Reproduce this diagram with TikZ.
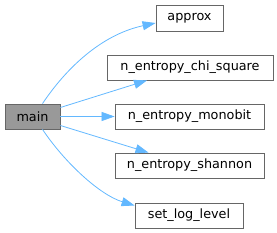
\documentclass[tikz,border=0pt]{standalone}
\usepackage{fontspec}
\setmainfont{DejaVu Sans}
\usetikzlibrary{arrows.meta}
\definecolor{edgeblue}{HTML}{63B8FF}
\definecolor{boxborder}{HTML}{666666}
\definecolor{mainfill}{HTML}{999999}
\begin{document}
\begin{tikzpicture}[x=1pt,y=-1pt,
  fn/.style={draw=boxborder,fill=white,line width=0.8pt,inner sep=0pt,minimum height=25pt,font=\fontsize{12.8}{14}\selectfont,text=black},
  call/.style={draw=edgeblue,line width=0.8pt,-{Triangle[length=13pt,width=9pt]}}]
\useasboundingbox (0,0) rectangle (277,233);
\node[fn,fill=mainfill,minimum width=55pt] (main) at (32.5,116.5) {main};
\node[fn,minimum width=67pt,minimum height=26pt] (approx) at (189.5,18) {approx};
\node[fn,minimum width=166pt] (chi) at (190,67.5) {n\_entropy\_chi\_square};
\node[fn,minimum width=149pt] (mono) at (189.5,116.5) {n\_entropy\_monobit};
\node[fn,minimum width=149pt] (shan) at (189.5,165.5) {n\_entropy\_shannon};
\node[fn,minimum width=108pt] (setl) at (189,215.5) {set\_log\_level};
\draw[call] ([xshift=10pt]main.north) .. controls (65,70) and (100,35) .. ([yshift=-5pt]approx.west);
\draw[call] ([yshift=9pt]main.east) -- ([xshift=-43pt]chi.south);
\draw[call] (main.east) -- (mono.west);
\draw[call] ([yshift=-9pt]main.east) -- ([xshift=-41pt]shan.north);
\draw[call] ([xshift=10pt]main.south) .. controls (65,163) and (100,195) .. ([yshift=10pt]setl.west);
\end{tikzpicture}
\end{document}
